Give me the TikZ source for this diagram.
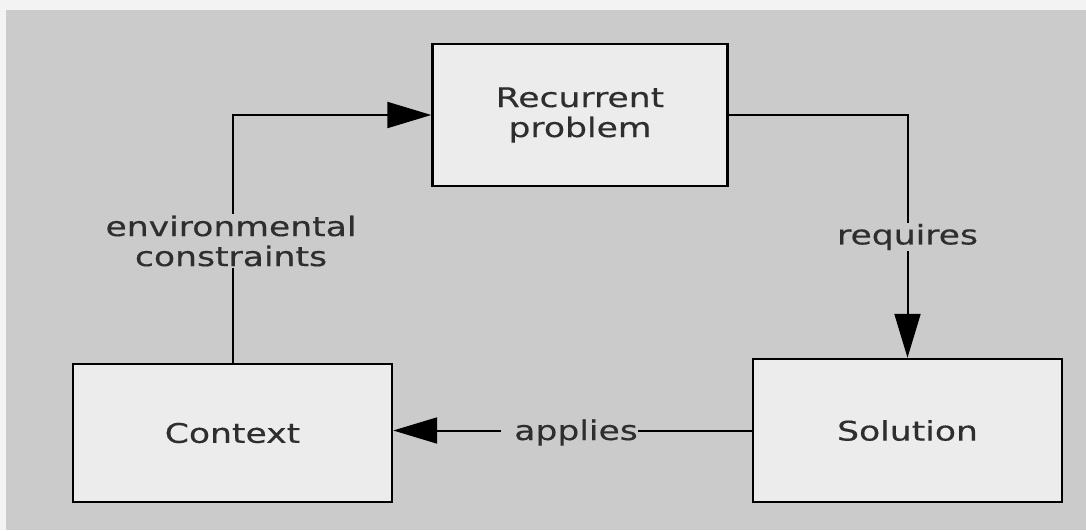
\documentclass[tikz,border=0pt]{standalone}
\usepackage{fontspec}
\setmainfont[FakeStretch=1.28,FakeBold=0.4]{DejaVu Sans}
\usetikzlibrary{arrows.meta,calc}
\definecolor{pagecol}{HTML}{F3F3F3}
\definecolor{panelcol}{HTML}{CBCBCB}
\definecolor{boxcol}{HTML}{ECECEC}
\definecolor{inkcol}{HTML}{2E2E2E}
\tikzset{
  stepbox/.style={draw=black, line width=2.4pt, fill=boxcol, text=inkcol,
    align=center, inner sep=0pt, font=\fontsize{27}{30}\selectfont},
  flow/.style={draw=black, line width=2pt,
    -{Triangle[length=44pt,width=26pt]}},
  lbl/.style={fill=panelcol, text=inkcol, inner sep=0pt, align=center,
    font=\fontsize{27}{30}\selectfont},
}
\begin{document}
\begin{tikzpicture}[x=1pt,y=-1pt]
  % page and grey panel
  \fill[pagecol] (0,0) rectangle (1086,530);
  \fill[panelcol] (6,10) rectangle (1086,530);
  \useasboundingbox (0,0) rectangle (1086,530);

  % boxes
  \node[stepbox, minimum width=295pt, minimum height=142pt] (rec) at (580,115) {Recurrent\\problem};
  \node[stepbox, minimum width=319pt, minimum height=138pt] (ctx) at (232.5,433) {Context};
  \node[stepbox, minimum width=309pt, minimum height=143pt] (sol) at (907.5,430.5) {Solution};

  % context -> recurrent problem
  \draw[flow] (ctx.north) |- (rec.west);
  \node[lbl, inner ysep=2pt] (env) at (231,241) {environmental\\constraints};

  % recurrent problem -> solution
  \draw[flow] (rec.east) -| (sol.north);
  \node[lbl, inner ysep=1pt] (req) at (907.5,237) {requires};

  % solution -> context
  \draw[line width=2pt] (sol.west) -- (sol.west -| 638,0) coordinate (apr);
  \node[lbl, anchor=base east] (app) at (638,440) {applies};
  \coordinate (apl) at ($(app.west |- sol.west)+(-13,0)$);
  \draw[flow] (apl) -- (apl -| ctx.east);
\end{tikzpicture}
\end{document}
